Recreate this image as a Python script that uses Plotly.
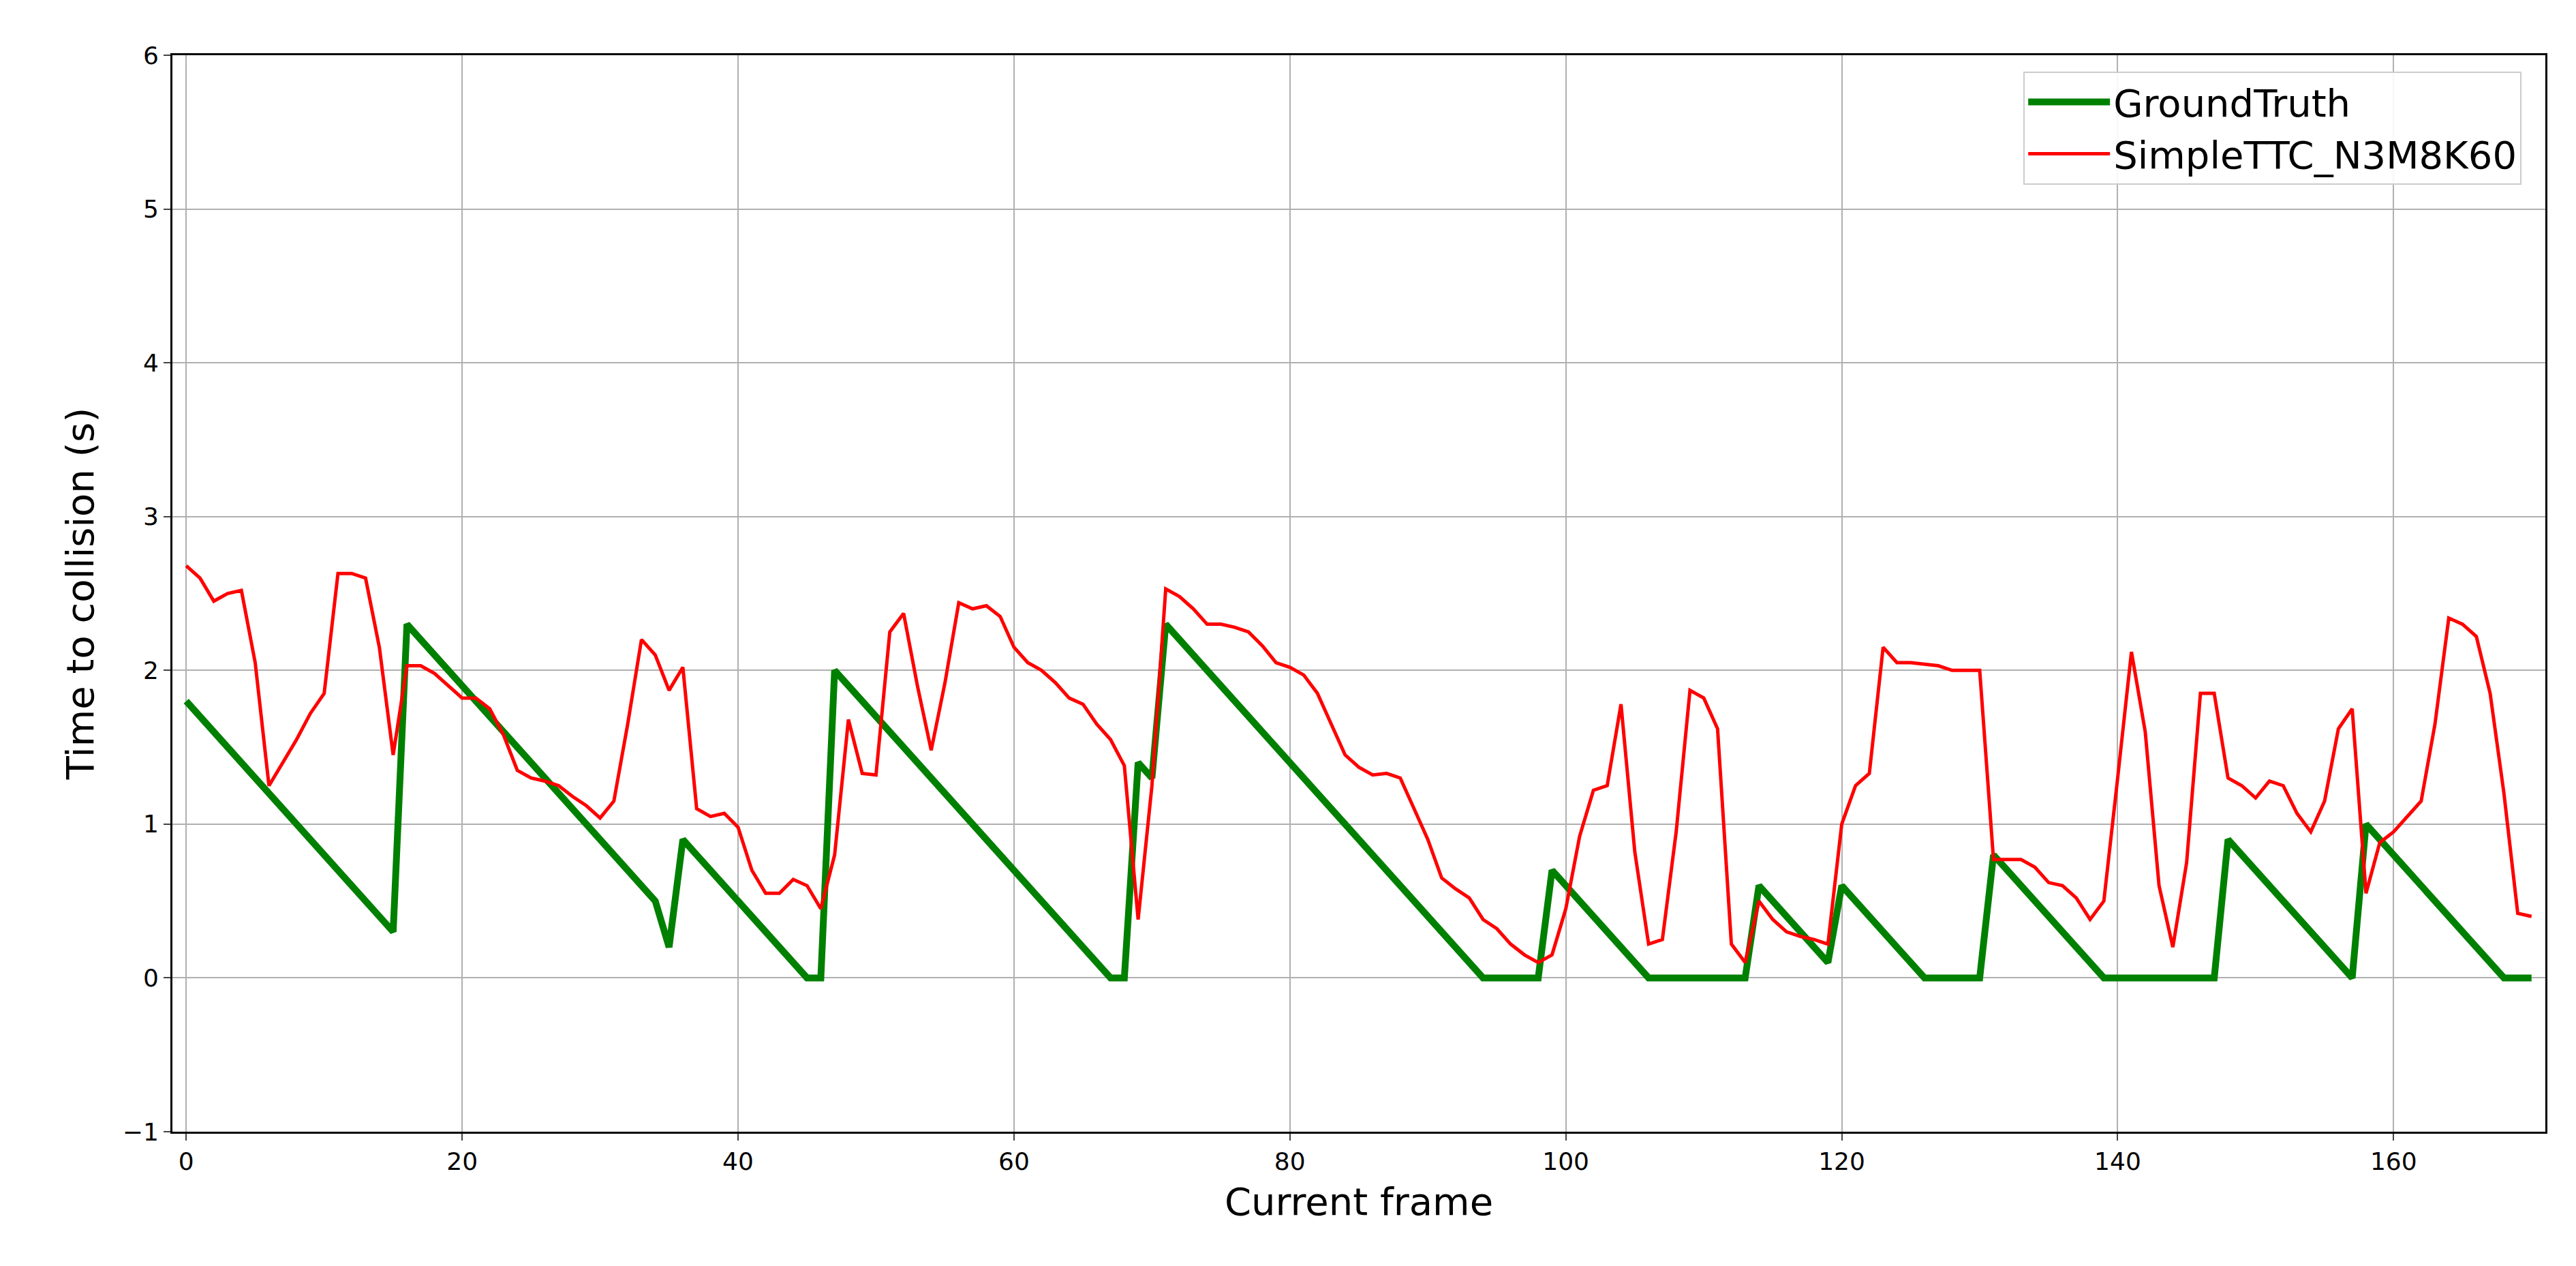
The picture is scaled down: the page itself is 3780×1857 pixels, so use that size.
import plotly.graph_objects as go

frames = list(range(171))
ground_truth = [1.8,1.7,1.6,1.5,1.4,1.3,1.2,1.1,1.0,0.9,0.8,0.7,0.6,0.5,0.4,0.3,
 2.3,2.2,2.1,2.0,1.9,1.8,1.7,1.6,1.5,1.4,1.3,1.2,1.1,1.0,0.9,0.8,0.7,0.6,0.5,0.2,
 0.9,0.8,0.7,0.6,0.5,0.4,0.3,0.2,0.1,0.0,0.0,
 2.0,1.9,1.8,1.7,1.6,1.5,1.4,1.3,1.2,1.1,1.0,0.9,0.8,0.7,0.6,0.5,0.4,0.3,0.2,0.1,0.0,0.0,
 1.4,1.3,
 2.3,2.2,2.1,2.0,1.9,1.8,1.7,1.6,1.5,1.4,1.3,1.2,1.1,1.0,0.9,0.8,0.7,0.6,0.5,0.4,0.3,0.2,0.1,0.0,0.0,0.0,0.0,0.0,
 0.7,0.6,0.5,0.4,0.3,0.2,0.1,0.0,0.0,0.0,0.0,0.0,0.0,0.0,0.0,
 0.6,0.5,0.4,0.3,0.2,0.1,
 0.6,0.5,0.4,0.3,0.2,0.1,0.0,0.0,0.0,0.0,0.0,
 0.8,0.7,0.6,0.5,0.4,0.3,0.2,0.1,0.0,0.0,0.0,0.0,0.0,0.0,0.0,0.0,0.0,
 0.9,0.8,0.7,0.6,0.5,0.4,0.3,0.2,0.1,0.0,
 1.0,0.9,0.8,0.7,0.6,0.5,0.4,0.3,0.2,0.1,0.0,0.0,0.0]
simple_ttc = [2.68,2.6,2.45,2.5,2.52,2.05,1.25,1.4,1.55,1.72,1.85,2.63,2.63,2.6,2.15,1.45,
 2.03,2.03,1.98,1.9,1.82,1.82,1.75,1.58,1.35,1.3,1.28,1.25,1.18,1.12,1.04,1.15,1.65,2.2,2.1,1.87,
 2.02,1.1,1.05,1.07,0.98,0.7,0.55,0.55,0.64,0.6,0.45,0.8,1.68,1.33,1.32,2.25,2.37,1.9,1.48,1.92,
 2.44,2.4,2.42,2.35,2.15,2.05,2.0,1.92,1.82,1.78,1.65,1.55,1.38,0.38,1.25,2.53,2.48,2.4,2.3,2.3,
 2.28,2.25,2.16,2.05,2.02,1.97,1.85,1.65,1.45,1.37,1.32,1.33,1.3,1.1,0.9,0.65,0.58,0.52,0.38,0.32,
 0.22,0.15,0.1,0.15,0.45,0.92,1.22,1.25,1.78,0.82,0.22,0.25,0.95,1.87,1.82,1.62,0.22,0.1,0.5,0.38,
 0.3,0.27,0.25,0.22,1.0,1.25,1.33,2.15,2.05,2.05,2.04,2.03,2.0,2.0,2.0,0.77,0.77,0.77,0.72,0.62,
 0.6,0.52,0.38,0.5,1.3,2.12,1.6,0.6,0.2,0.75,1.85,1.85,1.3,1.25,1.17,1.28,1.25,1.07,0.95,1.15,
 1.62,1.75,0.55,0.88,0.95,1.05,1.15,1.65,2.34,2.3,2.22,1.85,1.2,0.42,0.4]
x_ticks = [0,20,40,60,80,100,120,140,160]
y_ticks = [-1,0,1,2,3,4,5,6]

fig = go.Figure()
fig.add_trace(go.Scatter(x=frames, y=ground_truth, mode="lines", name="GroundTruth",
                         line=dict(color="green", width=10)))
fig.add_trace(go.Scatter(x=frames, y=simple_ttc, mode="lines", name="SimpleTTC_N3M8K60",
                         line=dict(color="red", width=5)))
ax = dict(showline=True, linecolor="black", linewidth=3, mirror=True, ticks="outside",
          ticklen=10, tickwidth=2, showgrid=True, gridcolor="#b0b0b0", gridwidth=2,
          zeroline=False, tickfont=dict(size=36, family="DejaVu Sans", color="black"))
fig.update_layout(
    width=3780, height=1857, plot_bgcolor="white", paper_bgcolor="white",
    margin=dict(l=245, r=53, t=73, b=205),
    font=dict(family="DejaVu Sans", color="black"),
    xaxis=dict(ax, range=[-1, 171], tickvals=x_ticks,
               title=dict(text="Current frame", font=dict(size=56), standoff=20)),
    yaxis=dict(ax, range=[-1, 6], tickvals=y_ticks, ticktext=["−1"]+[str(v) for v in y_ticks[1:]],
               title=dict(text="Time to collision (s)", font=dict(size=56), standoff=25)),
    legend=dict(x=0.99, y=0.985, xanchor="right", yanchor="top", font=dict(size=56),
                itemwidth=120, tracegroupgap=10,
                bgcolor="rgba(255,255,255,0.9)", bordercolor="#cccccc", borderwidth=2),
)
fig.write_html("out.html")
